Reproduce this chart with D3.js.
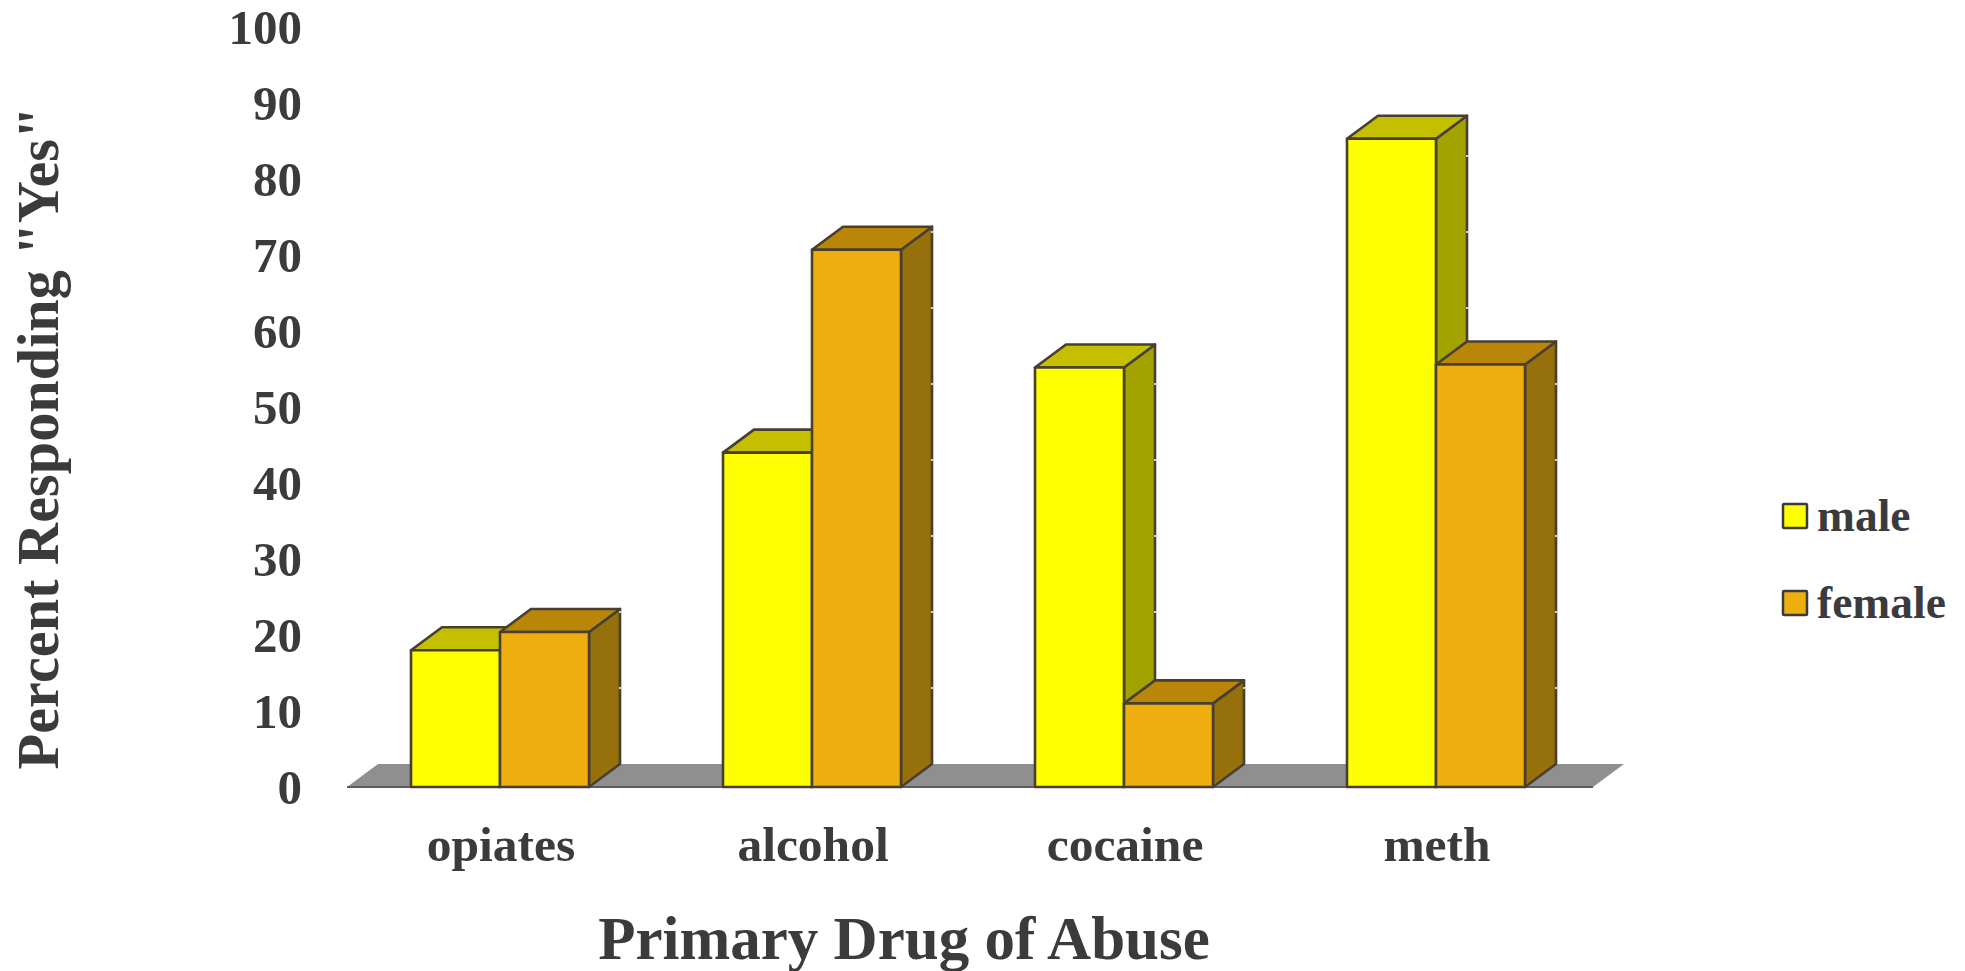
<!DOCTYPE html>
<html>
<head>
<meta charset="utf-8">
<script src="https://cdn.jsdelivr.net/npm/d3@7/dist/d3.min.js"></script>
<style>
  html, body { margin: 0; background: #fff; }
  svg { display: block; }
  text { font-family: "Liberation Serif", serif; font-weight: bold; fill: #3b3b3d; }
</style>
</head>
<body>
<svg id="chart" width="1965" height="971"></svg>
<script>
const categories = ["opiates", "alcohol", "cocaine", "meth"];
const seriesNames = ["male", "female"];
const maleValues = [18, 44, 55.2, 85.3];
const femaleValues = [20.4, 70.7, 11, 55.6];
const yTicks = [0, 10, 20, 30, 40, 50, 60, 70, 80, 90, 100];

const palette = {
  male: { front: "#ffff00", top: "#c4c000", side: "#a3a300" },
  female: { front: "#eeae10", top: "#b98608", side: "#96700a" }
};
const edge = "#483f30";
const depthX = 31, depthY = 23;
const svg = d3.select("#chart");

const x = d3.scaleBand().domain(categories).range([345, 1593]);
const series = d3.scaleBand().domain(seriesNames).range([66, 244]).paddingInner(0);
const y = d3.scaleLinear().domain([0, 100]).range([787, 27]);

// Floor of the 3D plot
const floorLeft = x.range()[0] + 2, floorRight = x.range()[1];
svg.append("polygon")
  .attr("points", [
    [floorLeft, y(0)], [floorLeft + depthX, y(0) - depthY],
    [floorRight + depthX, y(0) - depthY], [floorRight, y(0)]
  ].join(" "))
  .attr("fill", "#8f8f8f");
svg.append("line")
  .attr("x1", floorLeft).attr("x2", floorRight)
  .attr("y1", y(0)).attr("y2", y(0))
  .attr("stroke", "#5c5c5c").attr("stroke-width", 2);

// Each bar is a front face plus a top and a side face receding to the back plane
function drawBar(parent, left, width, value, colors) {
  const right = left + width, top = y(value), bottom = y(0);
  const g = parent.append("g")
    .attr("stroke", edge).attr("stroke-width", 2.6).attr("stroke-linejoin", "round");
  g.append("polygon")
    .attr("points", [[right, top], [right + depthX, top - depthY],
      [right + depthX, bottom - depthY], [right, bottom]].join(" "))
    .attr("fill", colors.side);
  g.append("polygon")
    .attr("points", [[left, top], [left + depthX, top - depthY],
      [right + depthX, top - depthY], [right, top]].join(" "))
    .attr("fill", colors.top);
  g.append("rect")
    .attr("x", left).attr("y", top)
    .attr("width", width).attr("height", bottom - top)
    .attr("fill", colors.front);
  // White gridlines of the back wall nick the rear edge of the bar
  yTicks.filter(t => t > 0 && y(t) > top).forEach(t => {
    g.append("line")
      .attr("x1", right + depthX - 1).attr("x2", right + depthX + 1.5)
      .attr("y1", y(t) - depthY).attr("y2", y(t) - depthY)
      .attr("stroke", "#fff").attr("stroke-width", 1.5);
  });
}

categories.forEach((c, i) => {
  const group = svg.append("g").attr("class", "bars");
  const start = x(c);
  drawBar(group, start + series("male"), series.bandwidth(), maleValues[i], palette.male);
  drawBar(group, start + series("female"), series.bandwidth(), femaleValues[i], palette.female);
});

// Axes
const yAxis = svg.append("g")
  .attr("transform", "translate(311,1)")
  .call(d3.axisLeft(y).tickValues(yTicks).tickSize(0).tickPadding(9));
yAxis.select(".domain").remove();
yAxis.selectAll("text").style("font-size", "49px").attr("fill", null);

const xAxis = svg.append("g")
  .attr("transform", "translate(0,787)")
  .call(d3.axisBottom(x).tickSize(0).tickPadding(0));
xAxis.select(".domain").remove();
xAxis.selectAll("text")
  .style("font-size", "49.5px").attr("fill", null)
  .attr("y", 74).attr("dy", 0);

// Axis titles
svg.append("text")
  .attr("transform", "translate(58,438) rotate(-90)")
  .attr("text-anchor", "middle")
  .style("font-size", "58.3px")
  .text("Percent Responding \"Yes\"");
svg.append("text")
  .attr("x", 904).attr("y", 959)
  .attr("text-anchor", "middle")
  .style("font-size", "61px")
  .text("Primary Drug of Abuse");

// Legend
const legendY = d3.scalePoint().domain(seriesNames).range([531, 618]);
const legend = svg.append("g").selectAll("g").data(seriesNames).join("g")
  .attr("transform", d => `translate(0,${legendY(d)})`);
legend.append("rect")
  .attr("x", 1783).attr("y", -27).attr("width", 24).attr("height", 24)
  .attr("rx", 1)
  .attr("fill", d => palette[d].front)
  .attr("stroke", "#3b3b3d").attr("stroke-width", 2.5);
legend.append("text")
  .attr("x", 1817).attr("y", 0)
  .style("font-size", "45.5px")
  .text(d => d);
</script>
</body>
</html>
